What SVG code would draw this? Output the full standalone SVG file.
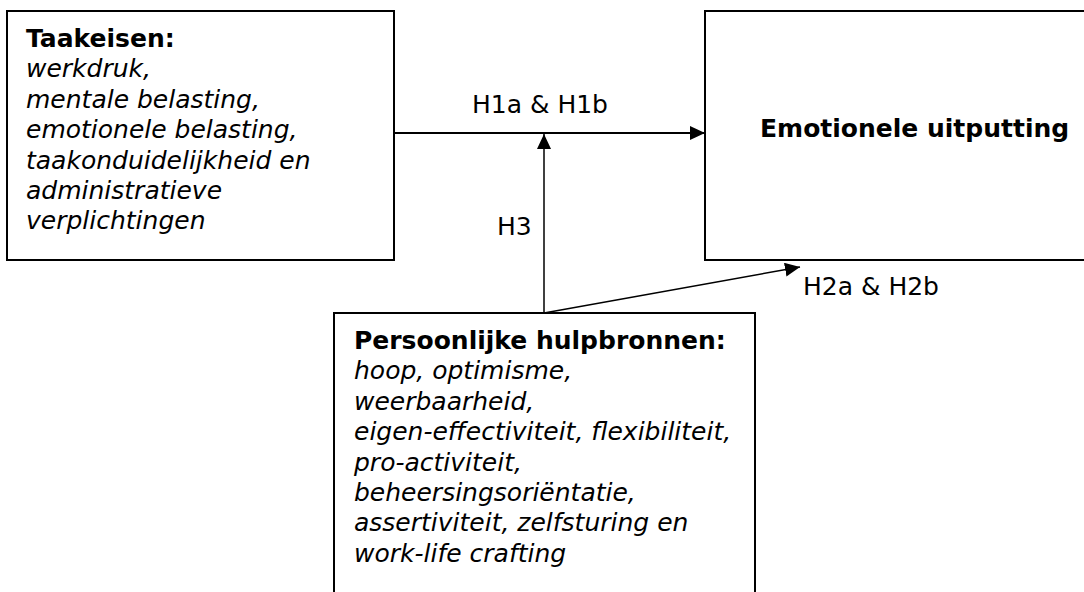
<svg xmlns="http://www.w3.org/2000/svg" width="1084" height="592" viewBox="0 0 1084 592">
  <defs>
    <marker id="arrow" markerUnits="userSpaceOnUse" markerWidth="16" markerHeight="14" refX="15" refY="7" orient="auto">
      <path d="M0,0 L15,7 L0,14 z" fill="#000"/>
    </marker>
    <style>
      .box { fill: #fff; stroke: #000; stroke-width: 2; }
      .t { font-family: "DejaVu Sans", Verdana, sans-serif; font-size: 25px; fill: #000; }
      .b { font-weight: bold; }
      .i { font-style: italic; }
      .conn { stroke: #000; fill: none; }
    </style>
  </defs>
  <rect width="1084" height="592" fill="#fff"/>

  <g id="node-taakeisen">
    <rect class="box" x="7" y="11" width="387" height="249"/>
    <text class="t b" x="26" y="47">Taakeisen:</text>
    <text class="t i" x="26" y="77.4">werkdruk,</text>
    <text class="t i" x="26" y="107.8">mentale belasting,</text>
    <text class="t i" x="26" y="138.2">emotionele belasting,</text>
    <text class="t i" x="26" y="168.6">taakonduidelijkheid en</text>
    <text class="t i" x="26" y="199">administratieve</text>
    <text class="t i" x="26" y="229.4">verplichtingen</text>
  </g>

  <g id="node-uitputting">
    <rect class="box" x="705" y="11" width="420" height="249"/>
    <text class="t b" x="760" y="137">Emotionele uitputting</text>
  </g>

  <g id="node-hulpbronnen">
    <rect class="box" x="334" y="313" width="421" height="300"/>
    <text class="t b" x="354" y="349">Persoonlijke hulpbronnen:</text>
    <text class="t i" x="354" y="379.4">hoop, optimisme,</text>
    <text class="t i" x="354" y="409.8">weerbaarheid,</text>
    <text class="t i" x="354" y="440.2">eigen-effectiviteit, flexibiliteit,</text>
    <text class="t i" x="354" y="470.6">pro-activiteit,</text>
    <text class="t i" x="354" y="501">beheersingsoriëntatie,</text>
    <text class="t i" x="354" y="531.4">assertiviteit, zelfsturing en</text>
    <text class="t i" x="354" y="561.8">work-life crafting</text>
  </g>

  <g id="connectors">
    <line class="conn" x1="394" y1="133" x2="705" y2="133" stroke-width="2" marker-end="url(#arrow)"/>
    <line class="conn" x1="544" y1="313" x2="544" y2="134" stroke-width="1.5" marker-end="url(#arrow)"/>
    <line class="conn" x1="544" y1="313" x2="800" y2="267" stroke-width="1.5" marker-end="url(#arrow)"/>
    <text class="t" x="472" y="113">H1a &amp; H1b</text>
    <text class="t" x="497" y="235">H3</text>
    <text class="t" x="803" y="295">H2a &amp; H2b</text>
  </g>
</svg>
